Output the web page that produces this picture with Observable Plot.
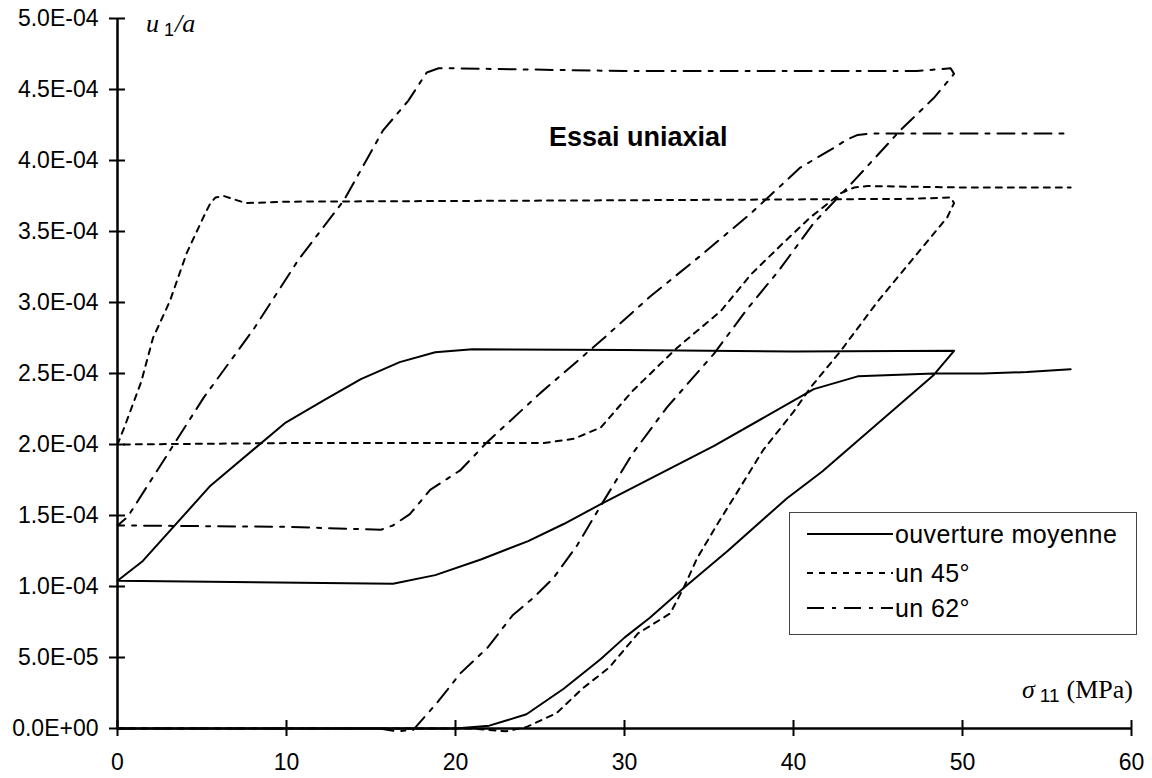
<!DOCTYPE html>
<html>
<head>
<meta charset="utf-8">
<script src="https://cdn.jsdelivr.net/npm/d3@7"></script>
<script src="https://cdn.jsdelivr.net/npm/@observablehq/plot@0.6"></script>
<style>
  html, body { margin: 0; padding: 0; background: #fff; }
  #wrap { position: relative; width: 1152px; height: 778px; }
  .ann { position: absolute; white-space: nowrap; color: #000; line-height: 1; }
  #legend { position: absolute; left: 789px; top: 512px; width: 346px; height: 121px;
            border: 1px solid #444; background: #fff; font-family: "Liberation Sans", Arial, sans-serif; font-size: 25px; letter-spacing: 0.4px; }
  .row { position: absolute; left: 17px; height: 30px; display: flex; align-items: center; }
  .row svg { display: block; margin-right: 2px; }
</style>
</head>
<body>
<div id="wrap"></div>
<script>
// ---- data (sigma_11 in MPa, u1/a dimensionless) ----
const moyX = [0, 20, 22, 24.2, 26.4, 28.6, 30, 31.5, 33.5, 36.1, 39.6, 41.7, 48.3, 49.5,
  40, 30, 21, 18.8, 16.7, 14.4, 12.2, 9.9, 5.5, 1.5, 0,
  16.3, 18.8, 21.5, 24.3, 26.4, 28.6, 35.3, 41.2, 43.8, 48.3, 51.2, 53.8, 56.4];
const moyY = [0, 0, 0.02e-4, 0.10e-4, 0.28e-4, 0.49e-4, 0.64e-4, 0.78e-4, 0.99e-4, 1.25e-4, 1.62e-4, 1.81e-4, 2.49e-4, 2.66e-4,
  2.655e-4, 2.665e-4, 2.67e-4, 2.65e-4, 2.58e-4, 2.46e-4, 2.31e-4, 2.15e-4, 1.71e-4, 1.18e-4, 1.04e-4,
  1.02e-4, 1.08e-4, 1.19e-4, 1.32e-4, 1.44e-4, 1.58e-4, 1.99e-4, 2.39e-4, 2.48e-4, 2.50e-4, 2.50e-4, 2.51e-4, 2.53e-4];

const u45X = [0, 21, 23, 24.2, 26, 27.5, 29.1, 30.8, 32.7, 33.5, 34.3, 35.5, 36.7, 38.2, 40, 41, 42.8, 45, 47.5, 49.1, 49.5, 49.3,
  47, 30, 10, 7.6, 6.8, 6.3, 5.8, 5.5, 5.2, 4.1, 3.1, 2.1, 1.4, 0.4, 0,
  10, 25.2, 27, 28.6, 30.5, 33.1, 35.7, 37.5, 39.4, 41, 42.8, 43.6, 44.4, 50, 56.4];
const u45Y = [0, 0, -0.02e-4, 0.01e-4, 0.11e-4, 0.28e-4, 0.43e-4, 0.67e-4, 0.81e-4, 0.99e-4, 1.20e-4, 1.44e-4, 1.67e-4, 1.96e-4, 2.23e-4, 2.40e-4, 2.66e-4, 3.01e-4, 3.37e-4, 3.60e-4, 3.70e-4, 3.74e-4,
  3.73e-4, 3.72e-4, 3.71e-4, 3.70e-4, 3.73e-4, 3.75e-4, 3.74e-4, 3.70e-4, 3.63e-4, 3.35e-4, 3.01e-4, 2.75e-4, 2.44e-4, 2.12e-4, 2.00e-4,
  2.01e-4, 2.01e-4, 2.04e-4, 2.12e-4, 2.38e-4, 2.68e-4, 2.94e-4, 3.20e-4, 3.42e-4, 3.60e-4, 3.77e-4, 3.81e-4, 3.82e-4, 3.81e-4, 3.81e-4];

const u62X = [0, 15.5, 16.5, 17.5, 18.9, 20.3, 21.9, 23.4, 24.6, 25.8, 27.2, 28.6, 30.5, 32.5, 35.3, 37.3, 39.1, 41.2, 43.6, 46.3, 48.3, 49.5, 49.3,
  47.3, 30, 19.6, 19.0, 18.3, 17.2, 15.7, 13.4, 10.7, 8.1, 5.1, 2.1, 0.6, 0,
  10, 15.6, 16.3, 17.3, 18.5, 20.3, 21.9, 25, 28.6, 31.5, 34.5, 37.5, 40.4, 42.4, 43.2, 43.8, 44.6, 50, 56.4];
const u62Y = [0, 0, -0.02e-4, -0.01e-4, 0.18e-4, 0.39e-4, 0.57e-4, 0.80e-4, 0.92e-4, 1.06e-4, 1.29e-4, 1.57e-4, 1.94e-4, 2.26e-4, 2.64e-4, 2.96e-4, 3.22e-4, 3.56e-4, 3.86e-4, 4.21e-4, 4.44e-4, 4.61e-4, 4.65e-4,
  4.63e-4, 4.63e-4, 4.65e-4, 4.65e-4, 4.62e-4, 4.42e-4, 4.21e-4, 3.72e-4, 3.30e-4, 2.82e-4, 2.33e-4, 1.77e-4, 1.49e-4, 1.43e-4,
  1.42e-4, 1.40e-4, 1.43e-4, 1.51e-4, 1.68e-4, 1.82e-4, 2.02e-4, 2.36e-4, 2.73e-4, 3.04e-4, 3.33e-4, 3.63e-4, 3.95e-4, 4.09e-4, 4.15e-4, 4.18e-4, 4.19e-4, 4.19e-4, 4.19e-4];

const xTicks = [0, 10, 20, 30, 40, 50, 60];
const xTickLabels = ["0", "10", "20", "30", "40", "50", "60"];
const yTicks = [0, 0.5e-4, 1.0e-4, 1.5e-4, 2.0e-4, 2.5e-4, 3.0e-4, 3.5e-4, 4.0e-4, 4.5e-4, 5.0e-4];
const yTickLabels = ["0.0E+00", "5.0E-05", "1.0E-04", "1.5E-04", "2.0E-04", "2.5E-04", "3.0E-04", "3.5E-04", "4.0E-04", "4.5E-04", "5.0E-04"];

const seriesNames = ["ouverture moyenne", "un 45°", "un 62°"];

// ---- build ----
const toRows = (xs, ys) => xs.map((x, i) => ({x, y: ys[i]}));
const moy = toRows(moyX, moyY);
const s45 = toRows(u45X, u45Y);
const s62 = toRows(u62X, u62Y);

const W = 1152, H = 778, mL = 117, mR = 21, mT = 18, mB = 50;
const plotW = W - mL - mR, plotH = H - mT - mB;
const DOT = "6,6", DASHDOT = "17,8,4,8";

const chart = Plot.plot({
  width: W, height: H,
  marginLeft: mL, marginRight: mR, marginTop: mT, marginBottom: mB,
  style: {fontFamily: "'Liberation Sans', Arial, sans-serif", color: "#000", background: "#fff", overflow: "visible"},
  x: {domain: [0, 60], label: null},
  y: {domain: [0, 5e-4], label: null},
  marks: [
    Plot.line(moy, {x: "x", y: "y", stroke: "#000", strokeWidth: 2}),
    Plot.line(s45, {x: "x", y: "y", stroke: "#000", strokeWidth: 2, strokeDasharray: DOT}),
    Plot.line(s62, {x: "x", y: "y", stroke: "#000", strokeWidth: 2, strokeDasharray: DASHDOT}),
    Plot.ruleX([0], {stroke: "#000", strokeWidth: 2.5}),
    Plot.ruleY([0], {stroke: "#000", strokeWidth: 2.5}),
    Plot.tickY(yTicks, {y: d => d, stroke: "#000", strokeWidth: 2, insetLeft: -8, insetRight: plotW - 8}),
    Plot.tickX(xTicks, {x: d => d, stroke: "#000", strokeWidth: 2, insetTop: plotH - 8, insetBottom: -8}),
    Plot.axisY({ticks: yTicks, tickSize: 0, tickPadding: 19, fontSize: 23,
      tickFormat: d => yTickLabels[yTicks.indexOf(d)]}),
    Plot.axisX({ticks: xTicks, tickSize: 0, tickPadding: 25, fontSize: 23,
      tickFormat: d => xTickLabels[xTicks.indexOf(d)]})
  ]
});

const wrap = document.getElementById("wrap");
wrap.appendChild(chart);

function addAnn(html, css) {
  const d = document.createElement("div");
  d.className = "ann";
  d.innerHTML = html;
  Object.assign(d.style, css);
  wrap.appendChild(d);
}
addAnn('<i>u</i><span style="font-family:\'Liberation Sans\',Arial;font-size:18px;font-style:normal;position:relative;top:4px;margin:0 1px 0 5px">1</span><i>/a</i>',
  {left: "146px", top: "11px", fontFamily: "'Liberation Serif', 'Times New Roman', serif", fontSize: "26px"});
addAnn('<i>σ</i><span style="font-family:\'Liberation Sans\',Arial;font-size:19px;position:relative;top:4px;margin:0 7px 0 5px">11</span>(MPa)',
  {right: (W - 1133) + "px", top: "677px", fontFamily: "'Liberation Serif', 'Times New Roman', serif", fontSize: "26px"});
addAnn('Essai uniaxial',
  {left: "549px", top: "124px", fontFamily: "'Liberation Sans', Arial, sans-serif", fontSize: "27px", fontWeight: "bold"});

// legend
const leg = document.createElement("div");
leg.id = "legend";
const dashes = [null, DOT, DASHDOT];
const rowTops = [6, 45, 80];
seriesNames.forEach((name, i) => {
  const r = document.createElement("div");
  r.className = "row";
  r.style.top = rowTops[i] + "px";
  const da = dashes[i] ? `stroke-dasharray="${dashes[i]}"` : "";
  r.innerHTML = `<svg width="86" height="6"><line x1="0" y1="3" x2="86" y2="3" stroke="#000" stroke-width="2" ${da}/></svg><span>${name}</span>`;
  leg.appendChild(r);
});
wrap.appendChild(leg);
</script>
</body>
</html>
